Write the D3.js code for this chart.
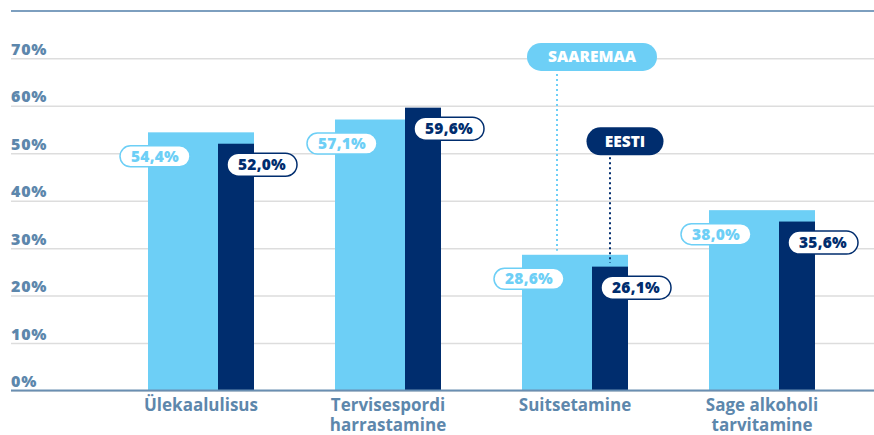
<!DOCTYPE html>
<html><head><meta charset="utf-8">
<script src="https://cdn.jsdelivr.net/npm/d3@7"></script>
<style>
html,body{margin:0;padding:0;background:#fff;}
svg{display:block;}
</style></head>
<body>
<script>
const categories = ["Ülekaalulisus", "Tervisespordi harrastamine", "Suitsetamine", "Sage alkoholi tarvitamine"];
const categoryLines = [["Ülekaalulisus"], ["Tervisespordi", "harrastamine"], ["Suitsetamine"], ["Sage alkoholi", "tarvitamine"]];
const saaremaa = [54.4, 57.1, 28.6, 38.0];
const eesti = [52.0, 59.6, 26.1, 35.6];
const yTicks = [0, 10, 20, 30, 40, 50, 60, 70];
const seriesNames = ["SAAREMAA", "EESTI"];

const W = 874, H = 435;
const cLight = "#6dcff6", cDark = "#002d6e", cAxis = "#5d87ac";
const fmt = v => v.toFixed(1).replace(".", ",") + "%";

const svg = d3.select("body").append("svg").attr("width", W).attr("height", H);

const x = d3.scaleBand().domain(categories).range([107.5, 855.5]);
const y = d3.scaleLinear().domain([0, 70]).range([390.5, 58.3]);
const cx = c => x(c) + x.bandwidth() / 2;

// top rule
svg.append("line").attr("x1", 11).attr("x2", W).attr("y1", 11).attr("y2", 11)
  .attr("stroke", "#7d9fbf").attr("stroke-width", 2);

// y axis with gridlines
const yAxis = svg.append("g").attr("transform", "translate(11,0)")
  .call(d3.axisRight(y).tickValues(yTicks).tickSize(W - 11).tickFormat(d => d + "%"));
yAxis.select(".domain").remove();
yAxis.selectAll(".tick line").attr("stroke", "#dddddd").attr("stroke-width", 1.5);
yAxis.selectAll(".tick text").attr("x", 0).attr("dy", "-4").attr("text-anchor", "start")
  .attr("fill", cAxis).style("font-family", "'Open Sans', sans-serif")
  .style("font-weight", 800).style("font-size", "16px").style("letter-spacing", "0.8px");

// bars
const idx = d3.range(categories.length);
svg.append("g").selectAll("rect").data(idx).join("rect")
  .attr("x", i => cx(categories[i]) - 53).attr("width", 106)
  .attr("y", i => y(saaremaa[i])).attr("height", i => y(0) - y(saaremaa[i]))
  .attr("fill", cLight);
svg.append("g").selectAll("rect").data(idx).join("rect")
  .attr("x", i => cx(categories[i]) + 17).attr("width", 36)
  .attr("y", i => y(eesti[i])).attr("height", i => y(0) - y(eesti[i]))
  .attr("fill", cDark);

// baseline
svg.append("line").attr("x1", 11).attr("x2", W).attr("y1", y(0)).attr("y2", y(0))
  .attr("stroke", "#6a8fb2").attr("stroke-width", 2);

// x axis labels
const xAxis = svg.append("g").attr("transform", `translate(0,${y(0)})`)
  .call(d3.axisBottom(x).tickSize(0).tickFormat(""));
xAxis.select(".domain").remove();
xAxis.selectAll(".tick").each(function(d, i) {
  const t = d3.select(this).append("text").attr("fill", cAxis).attr("text-anchor", "middle")
    .style("font-family", "'Open Sans', sans-serif").style("font-weight", 700).style("font-size", "17px");
  categoryLines[i].forEach((ln, k) => {
    t.append("tspan").attr("x", 0).attr("y", 20 + k * 20).text(ln);
  });
});

// value labels
function pill(g, cxp, cyp, w, h, stroke, fill, txt, color) {
  g.append("rect").attr("x", cxp - w / 2).attr("y", cyp - h / 2).attr("width", w).attr("height", h)
    .attr("rx", h / 2).attr("fill", fill).attr("stroke", stroke).attr("stroke-width", 1.5);
  g.append("text").attr("x", cxp).attr("y", cyp).attr("dy", "0.36em").attr("text-anchor", "middle")
    .attr("fill", color).style("font-family", "'Open Sans', sans-serif").style("font-weight", 800)
    .style("font-size", "15.5px").style("letter-spacing", "0.3px").text(txt);
}

// legend callouts with dotted leaders (in third category)
const leg = svg.append("g");
const c3 = categories[2];
const sX = cx(c3) - 53 + (106 - 36) / 2;
const eX = cx(c3) + 17 + 18;
leg.append("line").attr("x1", sX).attr("x2", sX).attr("y1", y(70.3) + 17).attr("y2", y(saaremaa[2]) - 4)
  .attr("stroke", cLight).attr("stroke-width", 2).attr("stroke-dasharray", "2,3");
leg.append("line").attr("x1", eX).attr("x2", eX).attr("y1", y(52.5) + 16).attr("y2", y(eesti[2]) - 4)
  .attr("stroke", cDark).attr("stroke-width", 2).attr("stroke-dasharray", "2,3");

const lbl = svg.append("g");
idx.forEach(i => {
  const c = categories[i];
  pill(lbl, cx(c) - 46, y(saaremaa[i]) + 24, 70, 21, cLight, "#fff", fmt(saaremaa[i]), cLight);
  pill(lbl, cx(c) + 61, y(eesti[i]) + 21, 70, 23, cDark, "#fff", fmt(eesti[i]), cDark);
});

function tag(cxp, cyp, w, fill, txt) {
  leg.append("rect").attr("x", cxp - w / 2).attr("y", cyp - 14).attr("width", w).attr("height", 28)
    .attr("rx", 14).attr("fill", fill);
  leg.append("text").attr("x", cxp).attr("y", cyp).attr("dy", "0.36em").attr("text-anchor", "middle")
    .attr("fill", "#fff").style("font-family", "'Open Sans', sans-serif").style("font-weight", 800)
    .style("font-size", "15.5px").text(txt);
}
tag(cx(c3) + 17, y(70.3), 130, cLight, seriesNames[0]);
tag(cx(c3) + 50, y(52.5), 77, cDark, seriesNames[1]);
</script>
</body></html>
